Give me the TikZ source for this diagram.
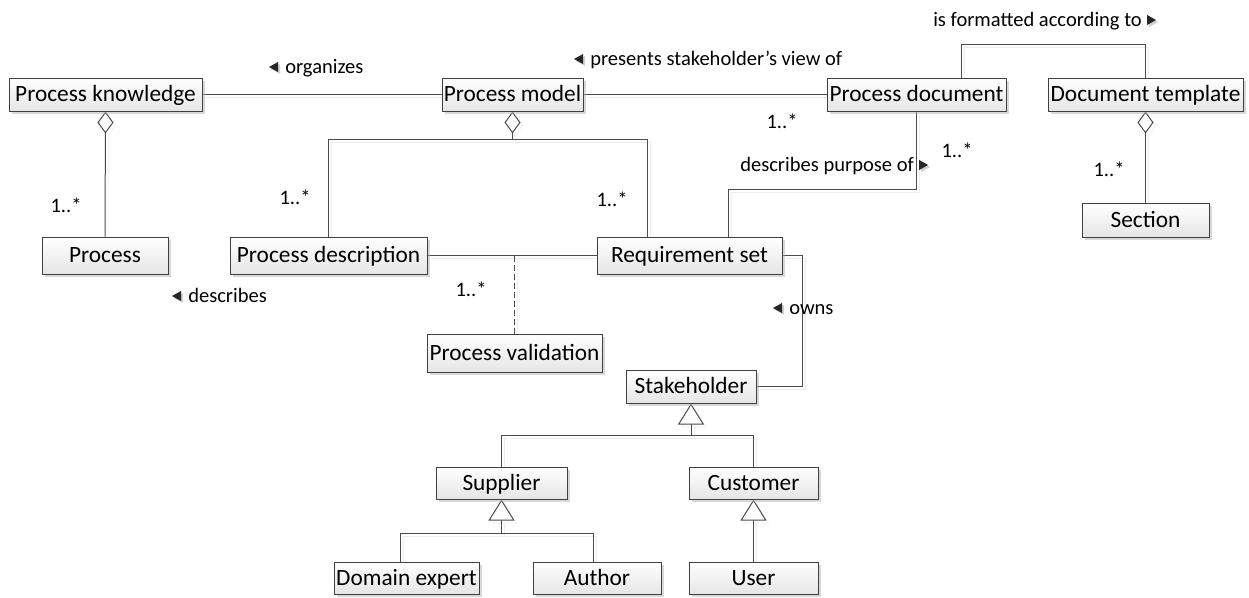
\documentclass[tikz,border=0pt]{standalone}
\usepackage{fontspec}
\setmainfont{Carlito}
\usetikzlibrary{arrows.meta,shadows,calc,backgrounds}
\newcommand\umlbox[5]{\node[cls, minimum width=#3*0.75pt, minimum height=#4*0.75pt] (#1) at (#2) {#5};}
\newcommand\larr[1]{\fill[trishadow] ($(#1.base west)+(-5,-9)$) -- ++(0,10) -- ++(-9,-5) -- cycle;
  \fill[tri] ($(#1.base west)+(-7,-11)$) -- ++(0,10) -- ++(-9,-5) -- cycle;}
\newcommand\rarr[1]{\fill[trishadow] ($(#1.base east)+(7,-9)$) -- ++(0,10) -- ++(9,-5) -- cycle;
  \fill[tri] ($(#1.base east)+(5,-11)$) -- ++(0,10) -- ++(9,-5) -- cycle;}
\begin{document}
\begin{tikzpicture}[x=0.75pt,y=-0.75pt,
  cls/.style={draw=black!75, line width=0.75pt, top color=white, bottom color=black!10, inner sep=0,
    font=\fontsize{17.5}{20}\selectfont, text height=12.5pt, text depth=2pt,
    drop shadow={shadow xshift=2.25pt, shadow yshift=-2.25pt, fill=black!30, opacity=0.5}},
  lbl/.style={inner sep=0, font=\fontsize{15.4}{18}\selectfont},
  conn/.style={draw=black!70, line width=0.75pt,
    preaction={draw=black!7, transform canvas={shift={(2.25pt,-2.25pt)}}}},
  agg/.style={conn, {Diamond[fill=white, length=16.5pt, width=12pt]}-},
  gen/.style={conn, -{Triangle[fill=white, length=15.75pt, width=19.5pt]}},
  tri/.style={fill=black!85},
  trishadow/.style={fill=black!18},
]
\useasboundingbox (0,0) rectangle (1249,597);

% classes
\umlbox{PK}{105.5,94.5}{193}{33}{Process knowledge}
\umlbox{PM}{512.5,94.5}{141}{33}{Process model}
\umlbox{PDoc}{916.5,94.5}{179}{33}{Process document}
\umlbox{DT}{1145.5,94.5}{195}{33}{Document template}
\umlbox{P}{105,255.5}{126}{37}{Process}
\umlbox{PD}{328.5,255.5}{197}{37}{Process description}
\umlbox{RS}{689.5,255.5}{185}{37}{Requirement set}
\umlbox{Sec}{1145.5,220}{127}{34}{Section}
\umlbox{PV}{514.5,353}{175}{38}{Process validation}
\umlbox{SH}{691,386.5}{130}{33}{Stakeholder}
\umlbox{Sup}{501.5,483}{131}{32}{Supplier}
\umlbox{Cust}{753.5,483}{129}{32}{Customer}
\umlbox{DE}{406.5,578}{145}{32}{Domain expert}
\umlbox{Au}{597,578}{128}{32}{Author}
\umlbox{User}{753.5,578}{129}{32}{User}

% connectors
\begin{scope}[on background layer]
\draw[conn] (PK.east) -- (PM.west);
\draw[conn] (PM.east) -- (PDoc.west);
\draw[agg] (PK.south) -- (P.north);
\coordinate (pmj) at ($(PM.south)+(0,28)$);
\draw[agg] (PM.south) -- (pmj);
\draw[conn] (PD.north) |- (pmj) -| ($(RS.north west)+(51,0)$);
\draw[conn] (PD.east) -- (RS.west);
\draw[conn, dash pattern=on 4.5pt off 2.25pt] (PV.north |- PD.east) -- (PV.north);
\draw[conn] ($(RS.north west)+(132,0)$) -- ++(0,-47) -| (PDoc.south);
\draw[conn] ($(PDoc.north west)+(135,0)$) -- ++(0,-33) -| (DT.north);
\draw[agg] (DT.south) -- (Sec.north);
\draw[conn] (RS.east) -- ++(20,0) |- (SH.east);
\coordinate (shj) at ($(SH.south)+(0,32)$);
\draw[gen] (shj) -- (SH.south);
\draw[conn] (Sup.north) |- (shj) -| (Cust.north);
\coordinate (supj) at ($(Sup.south)+(0,34)$);
\draw[gen] (supj) -- (Sup.south);
\draw[conn] ($(DE.north)+(-6.5,0)$) |- (supj) -| ($(Au.north)+(-4,0)$);
\draw[gen] (User.north) -- (Cust.south);
\end{scope}

% association labels
\node[lbl, anchor=base west] (lorg) at (285,73) {organizes}; \larr{lorg}
\node[lbl, anchor=base west] (lpres) at (590,65) {presents stakeholder’s view of}; \larr{lpres}
\node[lbl, anchor=base west] (lfmt) at (933,26) {is formatted according to}; \rarr{lfmt}
\node[lbl, anchor=base west] (ldp) at (740,171) {describes purpose of}; \rarr{ldp}
\node[lbl, anchor=base west] (ldesc) at (188,302) {describes}; \larr{ldesc}
\node[lbl, anchor=base west] (lown) at (789,314) {owns}; \larr{lown}

% multiplicities
\node[lbl, anchor=base] (m1) at (66,212) {1..*};
\node[lbl, anchor=base] (m2) at (295,204) {1..*};
\node[lbl, anchor=base] (m3) at (612,206) {1..*};
\node[lbl, anchor=base] (m4) at (782,128) {1..*};
\node[lbl, anchor=base] (m5) at (957,157) {1..*};
\node[lbl, anchor=base] (m6) at (1109,176) {1..*};
\node[lbl, anchor=base] (m7) at (471,296) {1..*};
\end{tikzpicture}
\end{document}
